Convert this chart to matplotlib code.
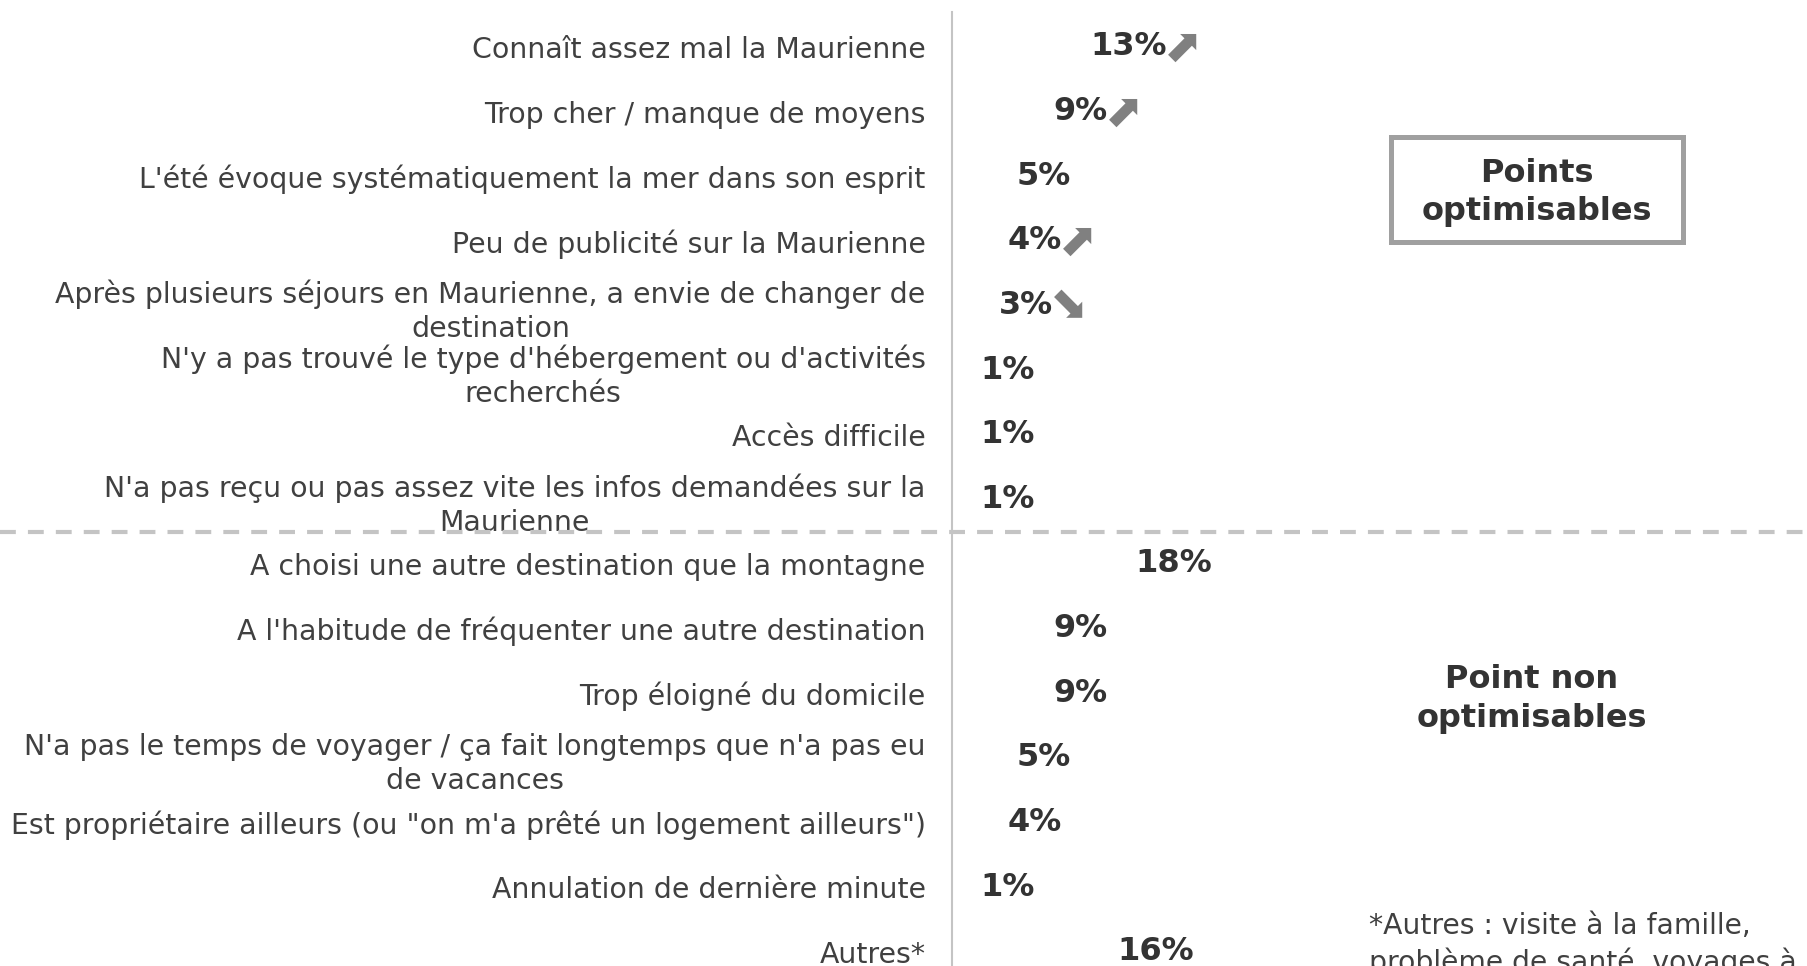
"""
Raisons de ne pas venir en Maurienne - points optimisables / non optimisables.
"""
import matplotlib
matplotlib.use('Agg')
import matplotlib.pyplot as plt
from matplotlib.patches import Rectangle
from matplotlib.lines import Line2D
from matplotlib.transforms import blended_transform_factory

categories = [
    "Connaît assez mal la Maurienne",
    "Trop cher / manque de moyens",
    "L'été évoque systématiquement la mer dans son esprit",
    "Peu de publicité sur la Maurienne",
    "Après plusieurs séjours en Maurienne, a envie de changer de\ndestination",
    "N'y a pas trouvé le type d'hébergement ou d'activités\nrecherchés",
    "Accès difficile",
    "N'a pas reçu ou pas assez vite les infos demandées sur la\nMaurienne",
    "A choisi une autre destination que la montagne",
    "A l'habitude de fréquenter une autre destination",
    "Trop éloigné du domicile",
    "N'a pas le temps de voyager / ça fait longtemps que n'a pas eu\nde vacances",
    "Est propriétaire ailleurs (ou \"on m'a prêté un logement ailleurs\")",
    "Annulation de dernière minute",
    "Autres*",
]
values = [13, 9, 5, 4, 3, 1, 1, 1, 18, 9, 9, 5, 4, 1, 16]
# evolution vs previous wave: 'up', 'down' or None
trends = ['up', 'up', None, 'up', 'down', None, None, None,
          None, None, None, None, None, None, None]

n_optimisables = 8

group_labels = ["Points\noptimisables", "Point non\noptimisables"]
footnote = "*Autres : visite à la famille,\nproblème de santé, voyages à"

TEXT = '#404040'
VALUE = '#333333'
ARROW = '#808080'
LINE = '#c4c4c4'


def plot_reasons(output):
    fig = plt.figure(figsize=(18.08, 9.66), dpi=100)
    ax = fig.add_axes([0.5265, -0.0161, 0.4735, 1.0037])

    y = list(range(len(categories)))
    ax.barh(y, values, height=0.6, color='none')
    ax.set_xlim(0, 93.9)
    ax.set_ylim(len(categories) - 0.54, -0.54)

    for side in ['top', 'right', 'bottom']:
        ax.spines[side].set_visible(False)
    ax.spines['left'].set_color(LINE)
    ax.spines['left'].set_linewidth(1.5)
    ax.set_xticks([])
    ax.set_yticks(y)
    ax.set_yticklabels(categories, fontsize=20.4, color=TEXT)
    ax.tick_params(axis='y', length=0, pad=19)
    for t in ax.get_yticklabels():
        t.set_multialignment('center')
        t.set_linespacing(1.28)

    for yi, v, tr in zip(y, values, trends):
        lab = ax.annotate(f"{v}%", xy=(v, yi), xytext=(14, 0),
                          textcoords='offset points', ha='left', va='center',
                          fontsize=23, fontweight='bold', color=VALUE)
        if tr:
            sym = '\u2b08' if tr == 'up' else '\u2b0a'
            ax.annotate(sym, xy=(1, 0.5), xycoords=lab, xytext=(-2, -1),
                        textcoords='offset points', ha='left', va='center',
                        fontsize=33, color=ARROW)

    # separator between the two groups, across the whole figure
    trans = blended_transform_factory(fig.transFigure, ax.transData)
    sep = n_optimisables - 0.5
    fig.add_artist(Line2D([0, 1], [sep, sep], transform=trans, color=LINE,
                          lw=3, linestyle=(0, (3.8, 2.9))))

    fig.add_artist(Rectangle((0.7694, 0.7495), 0.1615, 0.1087,
                             transform=fig.transFigure, fill=False,
                             edgecolor='#a0a0a0', lw=3.6))
    fig.text(0.850, 0.801, group_labels[0], ha='center', va='center',
             fontsize=23, fontweight='bold', color=VALUE,
             multialignment='center', linespacing=1.3)
    fig.text(0.847, 0.2765, group_labels[1], ha='center', va='center',
             fontsize=23, fontweight='bold', color=VALUE,
             multialignment='center', linespacing=1.3)
    fig.text(0.757, 1 - 912 / 966, footnote, ha='left', va='top',
             fontsize=20.3, color=TEXT, linespacing=1.3)

    fig.savefig(output, dpi=100)


def main():
    plot_reasons('out.png')


if __name__ == '__main__':
    main()
